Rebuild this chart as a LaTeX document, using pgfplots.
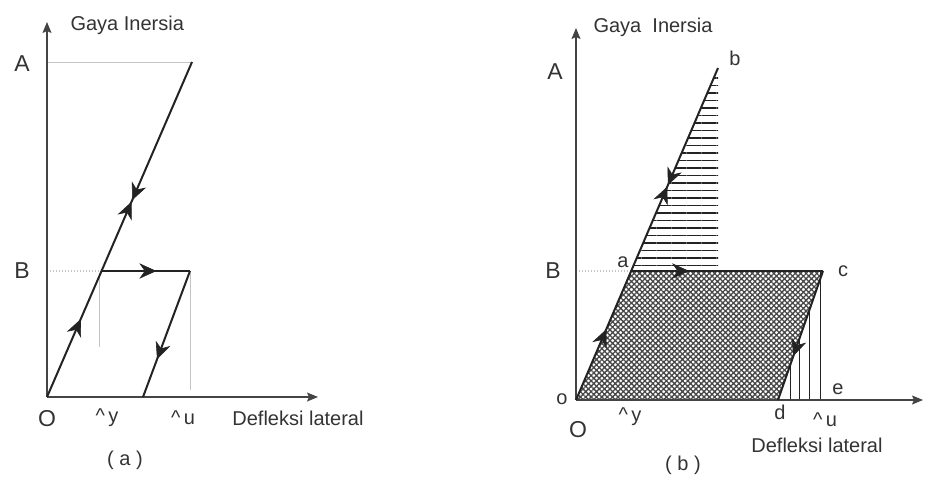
\documentclass[border=0pt]{standalone}
\usepackage{pgfplots}
\pgfplotsset{compat=1.18}
\usepackage{fontspec}
\setmainfont{Liberation Sans}
\usetikzlibrary{arrows.meta,decorations.markings,patterns.meta}

\definecolor{ink}{HTML}{232323}
\definecolor{txt}{HTML}{333333}
\definecolor{guide}{HTML}{C4C4C4}
\definecolor{mesh}{HTML}{474747}

% barbed arrowhead placed along a branch; "rev" points backwards
\newcommand{\headfwd}{\filldraw[ink, line width=0.6pt, line join=miter]
  (7.5pt,0) -- (-8pt,7pt) -- (-3pt,0) -- (-8pt,-7pt) -- cycle;}
\newcommand{\headrev}{\filldraw[ink, line width=0.6pt, line join=miter]
  (-7.5pt,0) -- (8pt,7pt) -- (3pt,0) -- (8pt,-7pt) -- cycle;}

\tikzset{
  axtip/.style={-{Stealth[length=11pt,width=9pt,inset=2pt]}},
  lbl/.style={txt,font=\fontsize{20}{22}\selectfont},
  big/.style={txt,font=\fontsize{23}{25}\selectfont},
  sml/.style={txt,font=\fontsize{20}{22}\selectfont},
}

\pgfplotsset{
  panel/.style={hide axis, clip=false, x=1pt, y=1pt, anchor=origin,
    xmin=0, xmax=350, ymin=0, ymax=375},
  axisline/.style={ink!85, line width=1.3pt, axtip},
  path/.style={ink, line width=2pt},
  guideline/.style={guide, line width=1pt},
}

\begin{document}
\begin{tikzpicture}
\useasboundingbox (0,0) rectangle (925pt,483pt);

% ---------------- (a) ----------------
\begin{axis}[panel, at={(47pt,86pt)}]
  % helper lines
  \addplot[guideline] coordinates {(0,335) (145,335)};
  \addplot[guideline, dotted, line width=1.3pt] coordinates {(0,126) (54,126)};
  \addplot[guideline, line width=0.8pt] coordinates {(52,120) (52,50)};
  \addplot[guideline, line width=0.8pt] coordinates {(143,124) (143,7)};
  % axes
  \addplot[axisline] coordinates {(0,0) (0,375)};
  \addplot[axisline] coordinates {(0,0) (271,0)};
  % loading branch
  \addplot[path, postaction={decorate}, decoration={markings,
      mark=at position 0.21 with {\headfwd},
      mark=at position 0.56 with {\headfwd},
      mark=at position 0.61 with {\headrev}}]
    coordinates {(0,0) (145,335)};
  % yield plateau
  \addplot[path, postaction={decorate}, decoration={markings,
      mark=at position 0.53 with {\headfwd}}]
    coordinates {(54,126) (143,126)};
  % unloading branch
  \addplot[path, postaction={decorate}, decoration={markings,
      mark=at position 0.64 with {\headfwd}}]
    coordinates {(143,126) (96,0)};
  % labels
  \node[lbl, anchor=west] at (axis cs:20,372) {Gaya Inersia};
  \node[big] at (axis cs:-25,333) {A};
  \node[big] at (axis cs:-25,126) {B};
  \node[big] at (axis cs:0,-22) {O};
  \node[lbl] at (axis cs:60,-21) {\textasciicircum\,y};
  \node[lbl] at (axis cs:136,-21) {\textasciicircum\,u};
  \node[lbl] at (axis cs:251,-21) {Defleksi lateral};
  \node[sml] at (axis cs:78,-63) {( a )};
\end{axis}

% ---------------- (b) ----------------
\begin{axis}[panel, at={(576pt,83pt)}]
  % hatched areas
  \addplot[draw=none, pattern={Lines[angle=0,distance=7.5pt,line width=1.3pt]},
    pattern color=ink] coordinates {(55,129) (142,129) (142,332)} -- cycle;
  \addplot[draw=none, pattern={Hatch[angle=45,distance=3.8pt,line width=1.3pt]},
    pattern color=mesh] coordinates {(0,0) (55,129) (247,129) (202,0)} -- cycle;
  % vertical hatching under the unloading branch
  \addplot[ink, line width=1pt] coordinates {(214,0) (214,34)};
  \addplot[ink, line width=1pt] coordinates {(223,0) (223,60)};
  \addplot[ink, line width=1pt] coordinates {(233,0) (233,89)};
  \addplot[ink, line width=1pt] coordinates {(244,0) (244,129)};
  % helper line
  \addplot[guideline, dotted, line width=1.3pt] coordinates {(0,129) (55,129)};
  % axes
  \addplot[axisline] coordinates {(0,0) (0,372)};
  \addplot[axisline] coordinates {(0,0) (347,0)};
  % loading branch o-a-b
  \addplot[path, postaction={decorate}, decoration={markings,
      mark=at position 0.19 with {\headfwd},
      mark=at position 0.62 with {\headfwd},
      mark=at position 0.67 with {\headrev}}]
    coordinates {(0,0) (142,332)};
  % plateau a-c
  \addplot[path, postaction={decorate}, decoration={markings,
      mark=at position 0.26 with {\headfwd}}]
    coordinates {(55,129) (247,129)};
  % unloading c-d
  \addplot[path, postaction={decorate}, decoration={markings,
      mark=at position 0.6 with {\headfwd}}]
    coordinates {(247,129) (202,0)};
  % labels
  \node[lbl, anchor=west] at (axis cs:14,373) {Gaya\ \ Inersia};
  \node[big] at (axis cs:-21,328) {A};
  \node[big] at (axis cs:-23,129) {B};
  \node[big] at (axis cs:2,-30) {O};
  \node[sml] at (axis cs:-14,1) {o};
  \node[sml] at (axis cs:47,138) {a};
  \node[sml] at (axis cs:159,342) {b};
  \node[sml] at (axis cs:267,129) {c};
  \node[sml] at (axis cs:204,-12) {d};
  \node[sml] at (axis cs:262,11) {e};
  \node[lbl] at (axis cs:54,-17) {\textasciicircum\,y};
  \node[lbl] at (axis cs:249,-20) {\textasciicircum\,u};
  \node[lbl] at (axis cs:241,-45) {Defleksi lateral};
  \node[sml] at (axis cs:107,-65) {( b )};
\end{axis}
\end{tikzpicture}
\end{document}
